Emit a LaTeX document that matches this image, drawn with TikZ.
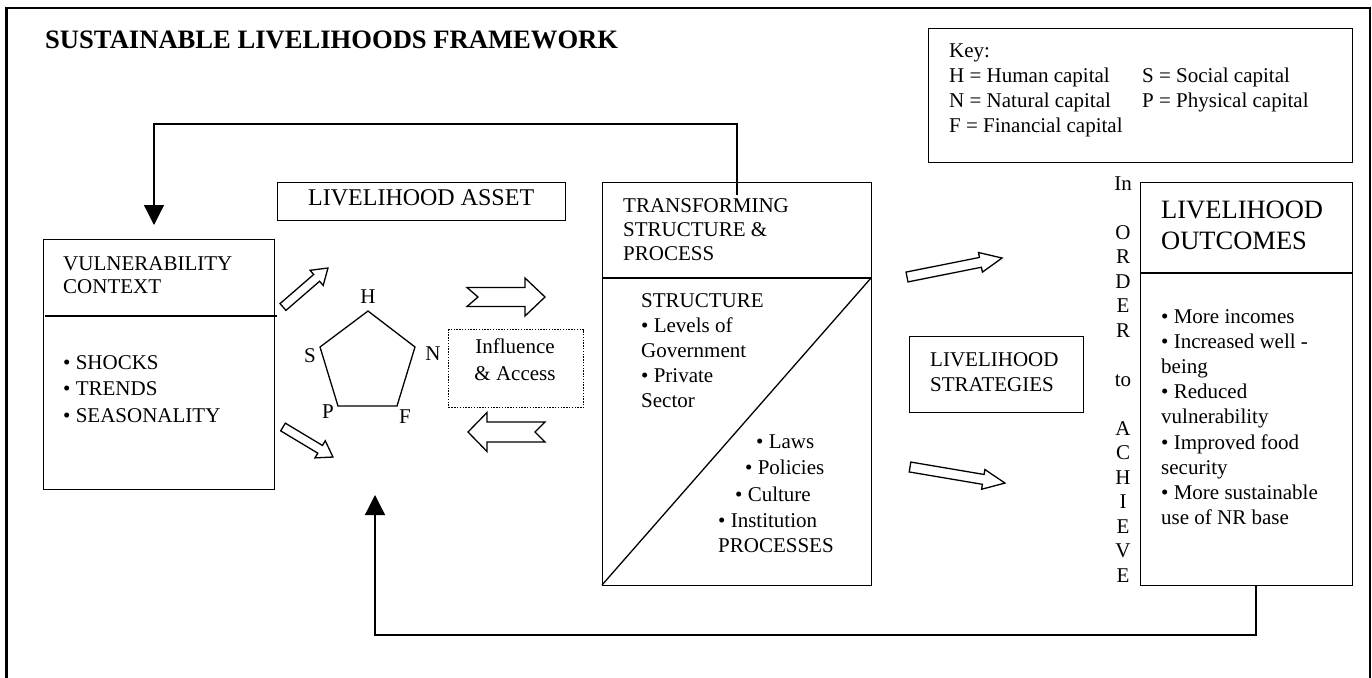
\documentclass[tikz,border=0pt]{standalone}
\usepackage{fontspec}
\setmainfont{Liberation Serif}
\usetikzlibrary{arrows.meta}
\newcommand\fsz[1]{\fontsize{#1pt}{#1pt}\selectfont}
\newcommand\lstack[2]{\vtop{\baselineskip=#1\lineskiplimit=-100pt\lineskip=0pt\ialign{##\hfil\cr#2\crcr}}}
\newcommand\cstack[2]{\vtop{\baselineskip=#1\lineskiplimit=-100pt\lineskip=0pt\ialign{\hfil##\hfil\cr#2\crcr}}}
\newcommand\harrow[7]{\begin{scope}[shift={#1},rotate=#2]
\draw[hollow] (0,#4) -- ({#3-#6},#4) -- ({#3-#6},#5) -- (#3,0) -- ({#3-#6},-#5) -- ({#3-#6},-#4) -- (0,-#4) -- (#7,0) -- cycle;
\end{scope}}
\begin{document}
\begin{tikzpicture}[x=1pt,y=-1pt,
  box/.style={draw, line width=1.3pt, inner sep=0pt, anchor=north west},
  txt/.style={inner sep=0pt, anchor=base west, font=\fsz{21}},
  ctxt/.style={inner sep=0pt, anchor=base, font=\fsz{21}},
  conn/.style={line width=1.3pt, -{Triangle[length=20pt,width=20pt]}},
  hollow/.style={draw, line width=1.3pt, fill=white, line join=miter},
  thin/.style={line width=1.3pt}]
\useasboundingbox (0,0) rectangle (1372,677);
% outer frame
\draw[line width=2.4pt] (6.5,682) -- (6.5,8) -- (1370,8) -- (1370,682);
% title
\node[txt, font=\fsz{26.6}\bfseries] (title) at (45,48.5) {SUSTAINABLE LIVELIHOODS FRAMEWORK};
% key
\node[box, minimum width=424pt, minimum height=134pt] (key) at (928,28) {};
\node[txt] (keyl) at (949,57) {\lstack{25pt}{Key:\cr H = Human capital\cr N = Natural capital\cr F = Financial capital}};
\node[txt] (keyr) at (1142,82) {\lstack{25pt}{S = Social capital\cr P = Physical capital}};
% vulnerability
\node[box, minimum width=231pt, minimum height=250pt] (vuln) at (43,239) {};
\draw[thin] (45,316) -- (277,316);
\node[txt] (vulnh) at (63,270) {\lstack{23.3pt}{VULNERABILITY\cr CONTEXT}};
\node[txt] (vulnb) at (63,369) {\lstack{26.5pt}{• SHOCKS\cr • TRENDS\cr • SEASONALITY}};
% livelihood asset
\node[box, minimum width=288pt, minimum height=38pt] (asset) at (277,182) {};
\node[txt, font=\fsz{24}] (assett) at (308,205) {LIVELIHOOD ASSET};
% pentagon
\coordinate (pH) at (368,311);
\coordinate (pN) at (415,347);
\coordinate (pF) at (397,406);
\coordinate (pP) at (338,406);
\coordinate (pS) at (320,347);
\draw[thin] (pH) -- (pN) -- (pF) -- (pP) -- (pS) -- cycle;
\node[ctxt] (lH) at (368,303) {H};
\node[ctxt] (lS) at (310,362) {S};
\node[ctxt] (lN) at (433,360) {N};
\node[ctxt] (lP) at (328,418) {P};
\node[ctxt] (lF) at (405,423) {F};
% influence & access
\node[box, line width=1.2pt, dash pattern=on 1.4pt off 1.4pt, minimum width=135pt, minimum height=78pt] (infl) at (448,329) {};
\node[ctxt] (inflt) at (515,353) {\cstack{27pt}{Influence\cr \& Access}};
% transforming structure
\node[box, minimum width=269pt, minimum height=403pt] (trans) at (602,182) {};
\draw[thin] (602,278) -- (871,278);
\draw[thin] (871,278) -- (602,585);
\node[txt] (transh) at (623,212) {\lstack{24pt}{TRANSFORMING\cr STRUCTURE \&\cr PROCESS}};
\node[txt] (struct) at (641,307) {\lstack{25.2pt}{STRUCTURE\cr • Levels of\cr Government\cr • Private\cr Sector}};
\node[txt] (laws) at (756,448) {• Laws};
\node[txt] (pol) at (745,474) {• Policies};
\node[txt] (cult) at (735,501) {• Culture};
\node[txt] (inst) at (718,527) {• Institution};
\node[txt] (proc) at (718,552) {PROCESSES};
% strategies
\node[box, minimum width=174pt, minimum height=76pt] (strat) at (909,336) {};
\node[txt] (stratt) at (930,366) {\lstack{25pt}{LIVELIHOOD\cr STRATEGIES}};
% vertical text
\node[ctxt] (vert) at (1123,190) {\cstack{24.5pt}{In\cr\cr O\cr R\cr D\cr E\cr R\cr\cr to\cr\cr A\cr C\cr H\cr I\cr E\cr V\cr E}};
% outcomes
\node[box, minimum width=212pt, minimum height=403pt] (outc) at (1140,182) {};
\draw[thin] (1140,273) -- (1352,273);
\node[txt, font=\fsz{26.5}] (outch) at (1161,218) {\lstack{31pt}{LIVELIHOOD\cr OUTCOMES}};
\node[txt] (outcb) at (1161,323) {\lstack{25.2pt}{• More incomes\cr • Increased well -\cr being\cr • Reduced\cr vulnerability\cr • Improved food\cr security\cr • More sustainable\cr use of NR base}};
% block arrows
\harrow{(283,307)}{40.9}{59.5}{4.5}{10}{15}{0}
\harrow{(283,427)}{-31}{58.3}{4.5}{10}{15}{0}
\harrow{(467,297)}{0}{78}{9.5}{19}{20}{11}
\harrow{(545,432)}{180}{77}{10}{19.5}{19}{10}
\harrow{(907,277)}{11.3}{96.9}{5}{10}{22}{0}
\harrow{(910,467)}{-9.6}{96.3}{5}{10}{22}{0}
% feedback connectors
\coordinate (fbA) at (737,195);
\coordinate (fbB) at (154,124);
\coordinate (fbC) at (154,225);
\draw[conn] (fbA) |- (fbB) -- (fbC);
\coordinate (bA) at (1256,585);
\coordinate (bB) at (375,635);
\coordinate (bC) at (375,495);
\draw[conn] (bA) |- (bB) -- (bC);
\end{tikzpicture}
\end{document}
